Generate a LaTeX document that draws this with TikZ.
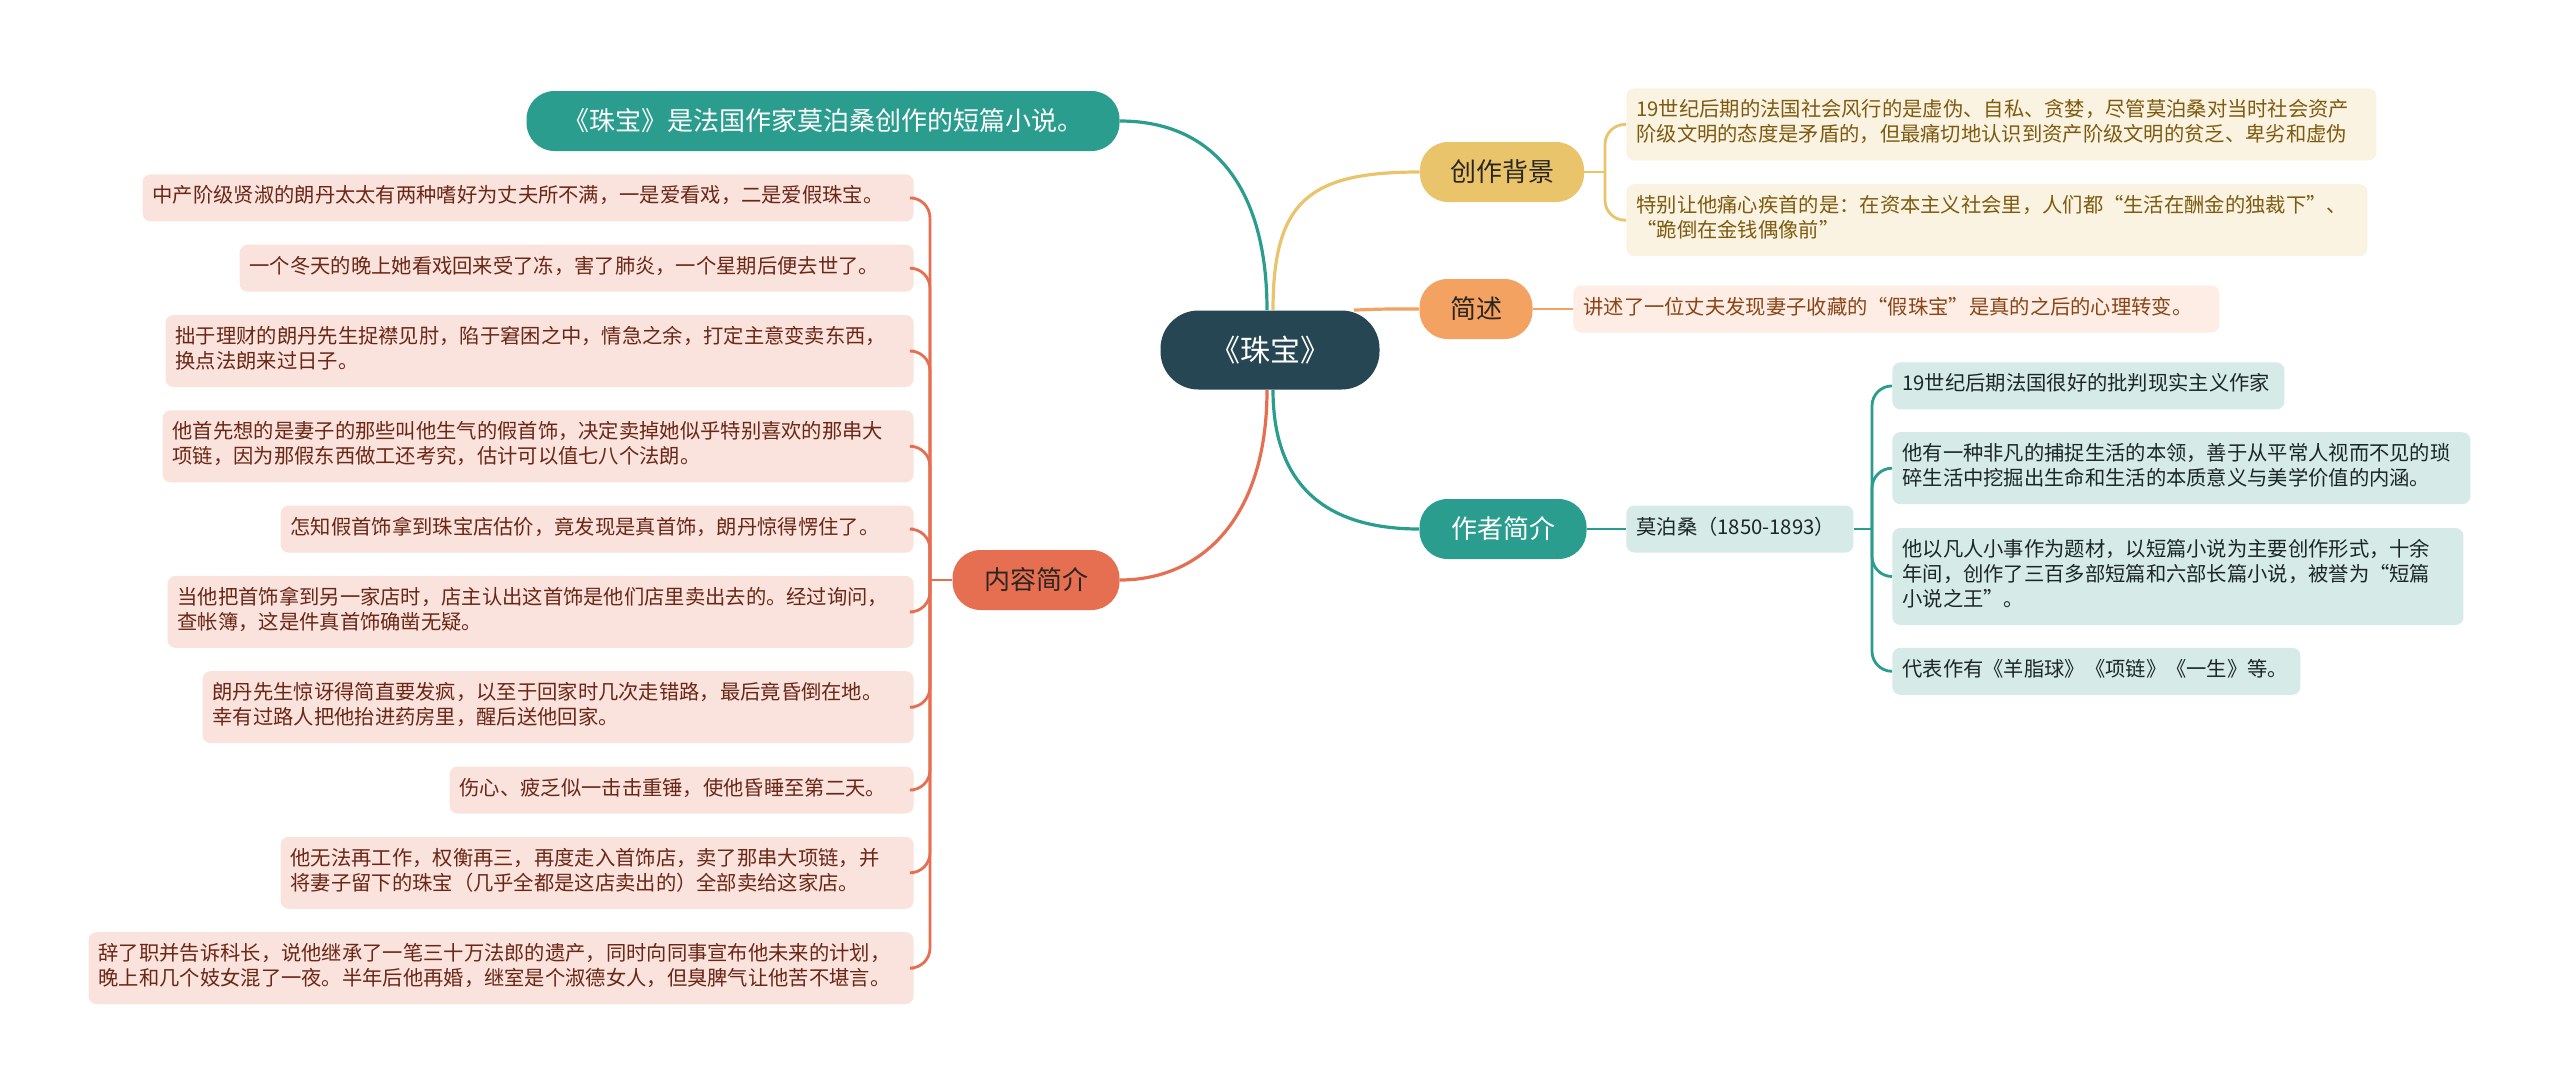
\documentclass[tikz,border=0pt]{standalone}
\usepackage{fontspec}
\setmainfont{Noto Sans CJK SC}
\usepackage{xcolor}
\usepackage{tikz}
\usetikzlibrary{positioning}

\definecolor{deep}{HTML}{264653}
\definecolor{greenmain}{HTML}{2A9D8F}
\definecolor{yellowmain}{HTML}{E9C46A}
\definecolor{orangemain}{HTML}{F4A261}
\definecolor{redmain}{HTML}{E76F51}
\definecolor{darktext}{HTML}{2B2622}
\definecolor{plotfill}{HTML}{F9E3DC}
\definecolor{plottext}{HTML}{6B2616}
\definecolor{bgfill}{HTML}{FBF3E1}
\definecolor{bgtext}{HTML}{7D5A10}
\definecolor{sumfill}{HTML}{FDEDE4}
\definecolor{sumtext}{HTML}{8A4516}
\definecolor{authfill}{HTML}{D6EBE8}
\definecolor{authtext}{HTML}{1B2626}

\begin{document}
\begin{tikzpicture}[
	x=0.5pt,
	y=-0.5pt,
	root/.style={
		rectangle,
		fill=deep,
		text=white,
		rounded corners=19pt,
		minimum width=109.5pt,
		minimum height=39.5pt,
		inner sep=0pt,
		font=\fontsize{15}{18}\selectfont
	},
	topic/.style={
		rectangle,
		rounded corners=14pt,
		minimum height=30pt,
		inner sep=0pt,
		text=darktext,
		font=\fontsize{13}{15}\selectfont
	},
	leaf/.style={
		rectangle,
		rounded corners=4pt,
		align=left,
		inner xsep=5pt,
		inner ysep=5.5pt,
		font=\fontsize{10.15}{12.5}\selectfont,
		execute at begin node=\strut,
		execute at end node=\strut
	},
	plot_leaf/.style={leaf, fill=plotfill, text=plottext},
	bg_leaf/.style={leaf, fill=bgfill, text=bgtext},
	sum_leaf/.style={leaf, fill=sumfill, text=sumtext},
	auth_leaf/.style={leaf, fill=authfill, text=authtext},
	link/.style={line width=1.6pt},
	branch/.style={line width=1.4pt}
	]
	\fill[white] (0,0) rectangle (2560,1087);
	\useasboundingbox (0,0) rectangle (2560,1087);
	
	\node (jewel) [root] at (1270,350) {《珠宝》};
	\node (intro) [topic, fill=greenmain, text=white, minimum width=296.5pt] at (823,121) {《珠宝》是法国作家莫泊桑创作的短篇小说。};
	\node (background) [topic, fill=yellowmain, minimum width=82pt] at (1502,172) {创作背景};
	\node (summary) [topic, fill=orangemain, minimum width=56.5pt] at (1476,309) {简述};
	\node (author) [topic, fill=greenmain, text=white, minimum width=83.5pt] at (1503,529) {作者简介};
	\node (plot) [topic, fill=redmain, minimum width=83.5pt] at (1036,580) {内容简介};
	
	\draw[link, greenmain] ([xshift=-1.5pt]jewel.north) .. controls (1267,190) and (1215,121) .. (intro.east);
	\draw[link, yellowmain] ([xshift=1.5pt]jewel.north) .. controls (1273,200) and (1310,172) .. (background.west);
	\draw[link, orangemain] ([xshift=42pt]jewel.north) .. controls (1380,309) .. (summary.west);
	\draw[link, greenmain] ([xshift=1.5pt]jewel.south) .. controls (1273,480) and (1320,529) .. (author.west);
	\draw[link, redmain] ([xshift=-1.5pt]jewel.south) .. controls (1267,520) and (1200,580) .. (plot.east);
	
	% creation background
	\node (bg_1) [bg_leaf, text width=365pt, anchor=north west] at (1626,88) {19世纪后期的法国社会风行的是虚伪、自私、贪婪，尽管莫泊桑对当时社会资产\\阶级文明的态度是矛盾的，但最痛切地认识到资产阶级文明的贫乏、卑劣和虚伪};
	\node (bg_2) [bg_leaf, text width=360.5pt, below=11.5pt of bg_1.south west, anchor=north west] {特别让他痛心疾首的是：在资本主义社会里，人们都“生活在酬金的独裁下”、\\“跪倒在金钱偶像前”};
	\coordinate (bg_fork) at (1605,172);
	\draw[branch, yellowmain] (background.east) -- (bg_fork);
	\draw[branch, yellowmain, rounded corners=10pt] (bg_fork) |- (bg_1.west);
	\draw[branch, yellowmain, rounded corners=10pt] (bg_fork) |- (bg_2.west);
	
	% summary
	\node (summary_text) [sum_leaf, text width=313pt, anchor=west] at (1573,309) {讲述了一位丈夫发现妻子收藏的“假珠宝”是真的之后的心理转变。};
	\draw[branch, orangemain] (summary) -- (summary_text);
	
	% author
	\node (maupassant) [auth_leaf, text width=103.5pt, anchor=west] at (1626,529) {莫泊桑（1850-1893）};
	\draw[branch, greenmain] (author) -- (maupassant);
	\node (author_1) [auth_leaf, text width=186pt, anchor=north west] at (1892,362) {19世纪后期法国很好的批判现实主义作家};
	\node (author_2) [auth_leaf, text width=279pt, below=11pt of author_1.south west, anchor=north west] {他有一种非凡的捕捉生活的本领，善于从平常人视而不见的琐\\碎生活中挖掘出生命和生活的本质意义与美学价值的内涵。};
	\node (author_3) [auth_leaf, text width=275.5pt, below=11.5pt of author_2.south west, anchor=north west] {他以凡人小事作为题材，以短篇小说为主要创作形式，十余\\年间，创作了三百多部短篇和六部长篇小说，被誉为“短篇\\小说之王”。};
	\node (author_4) [auth_leaf, text width=194pt, below=11pt of author_3.south west, anchor=north west] {代表作有《羊脂球》《项链》《一生》等。};
	\coordinate (author_fork) at (1872,529);
	\draw[branch, greenmain] (maupassant) -- (author_fork);
	\foreach \i in {1,...,4}
		\draw[branch, greenmain, rounded corners=10pt] (author_fork) |- (author_\i.west);
	
	% plot
	\node (plot_1) [plot_leaf, text width=375.5pt, anchor=north east] at (914,174) {中产阶级贤淑的朗丹太太有两种嗜好为丈夫所不满，一是爱看戏，二是爱假珠宝。};
	\node (plot_2) [plot_leaf, text width=327pt, below=11.25pt of plot_1.south east, anchor=north east] {一个冬天的晚上她看戏回来受了冻，害了肺炎，一个星期后便去世了。};
	\node (plot_3) [plot_leaf, text width=364pt, below=11.25pt of plot_2.south east, anchor=north east] {拙于理财的朗丹先生捉襟见肘，陷于窘困之中，情急之余，打定主意变卖东西，\\换点法朗来过日子。};
	\node (plot_4) [plot_leaf, text width=365.5pt, below=11.25pt of plot_3.south east, anchor=north east] {他首先想的是妻子的那些叫他生气的假首饰，决定卖掉她似乎特别喜欢的那串大\\项链，因为那假东西做工还考究，估计可以值七八个法朗。};
	\node (plot_5) [plot_leaf, text width=306.5pt, below=11.25pt of plot_4.south east, anchor=north east] {怎知假首饰拿到珠宝店估价，竟发现是真首饰，朗丹惊得愣住了。};
	\node (plot_6) [plot_leaf, text width=363pt, below=11.25pt of plot_5.south east, anchor=north east] {当他把首饰拿到另一家店时，店主认出这首饰是他们店里卖出去的。经过询问，\\查帐簿，这是件真首饰确凿无疑。};
	\node (plot_7) [plot_leaf, text width=345.5pt, below=11.25pt of plot_6.south east, anchor=north east] {朗丹先生惊讶得简直要发疯，以至于回家时几次走错路，最后竟昏倒在地。\\幸有过路人把他抬进药房里，醒后送他回家。};
	\node (plot_8) [plot_leaf, text width=222pt, below=11.25pt of plot_7.south east, anchor=north east] {伤心、疲乏似一击击重锤，使他昏睡至第二天。};
	\node (plot_9) [plot_leaf, text width=306.5pt, below=11.25pt of plot_8.south east, anchor=north east] {他无法再工作，权衡再三，再度走入首饰店，卖了那串大项链，并\\将妻子留下的珠宝（几乎全都是这店卖出的）全部卖给这家店。};
	\node (plot_10) [plot_leaf, text width=402.5pt, below=11.25pt of plot_9.south east, anchor=north east] {辞了职并告诉科长，说他继承了一笔三十万法郎的遗产，同时向同事宣布他未来的计划，\\晚上和几个妓女混了一夜。半年后他再婚，继室是个淑德女人，但臭脾气让他苦不堪言。};
	\coordinate (plot_fork) at (930,580);
	\draw[branch, redmain] (plot) -- (plot_fork);
	\foreach \i in {1,...,10}
		\draw[branch, redmain, rounded corners=10pt] (plot_fork) |- (plot_\i.east);
	
\end{tikzpicture}
\end{document}
